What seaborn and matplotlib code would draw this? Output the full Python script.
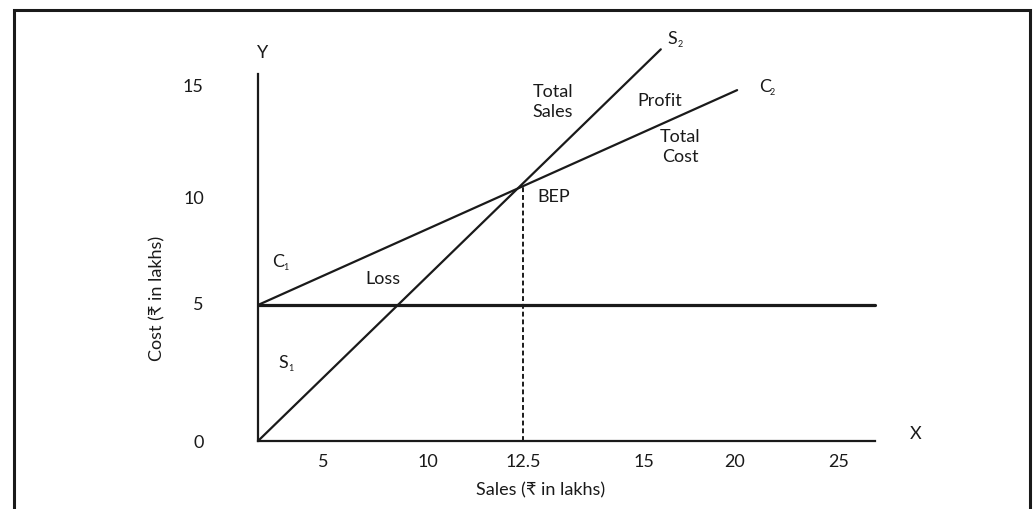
import matplotlib
matplotlib.use("Agg")
import matplotlib.pyplot as plt
import matplotlib.patches as patches
from matplotlib.transforms import offset_copy
import seaborn as sns
import pandas as pd

# Break-even chart values (chart units: sales and cost in lakhs, as drawn)
sales_x = [0, 19.0]
sales_y = [0, 14.4]
cost_x = [0, 22.6]
cost_y = [5, 12.9]
fixed_x = [0, 29.1]
fixed_y = [5, 5]
bep_x = 12.5
bep_top = 9.4

x_tick_labels = ["5", "10", "12.5", "15", "20", "25"]
y_tick_labels = ["0", "5", "10", "15"]

# where the (hand-placed) tick labels sit along the axes
x_tick_pos = [3.1, 8.0, 12.5, 18.2, 22.5, 27.4]
y_tick_pos = [0, 5.1, 9.0, 13.1]

# --- style ---
sns.set_theme(style="white")
plt.rcParams["font.family"] = ["Lato", "DejaVu Sans"]
INK = "#1a1a1a"
fs = 13

fig = plt.figure(figsize=(10.35, 5.10), dpi=100)
# axes origin sits at pixel (258, 442); 21.2 px per x unit, 27.2 px per y unit
ax = fig.add_axes([258 / 1035, 68 / 510, 742 / 1035, 422 / 510])
ax.set_xlim(0, 742 / 21.2)
ax.set_ylim(0, 422 / 27.2)

lines = pd.DataFrame({
    "x": sales_x + cost_x + fixed_x,
    "y": sales_y + cost_y + fixed_y,
    "line": ["sales"] * 2 + ["cost"] * 2 + ["fixed"] * 2,
})
sns.lineplot(data=lines[lines.line == "sales"], x="x", y="y", color=INK, lw=1.6, ax=ax)
sns.lineplot(data=lines[lines.line == "cost"], x="x", y="y", color=INK, lw=1.6, ax=ax)
sns.lineplot(data=lines[lines.line == "fixed"], x="x", y="y", color=INK, lw=2.3, ax=ax)
ax.plot([bep_x, bep_x], [0, bep_top], color=INK, lw=1.4, ls=(0, (2.5, 1.5)))

# axes lines
for s in ["top", "right"]:
    ax.spines[s].set_visible(False)
ax.spines["left"].set_bounds(0, 13.5)
ax.spines["bottom"].set_bounds(0, 29.1)
for s in ["left", "bottom"]:
    ax.spines[s].set_color(INK)
    ax.spines[s].set_linewidth(1.6)

ax.set_xticks(x_tick_pos, x_tick_labels)
ax.set_yticks(y_tick_pos, y_tick_labels)
ax.tick_params(axis="both", length=0, labelsize=fs, colors=INK)
ax.tick_params(axis="x", pad=9)
ax.tick_params(axis="y", pad=39)
ax.set_xlabel("")
ax.set_ylabel("")
ax.grid(False)


def label(x, y, txt, sub=None, **kw):
    # letter with a tiny subscript like the textbook figure
    t = ax.text(x, y, txt, fontsize=fs, color=INK, ha="center", va="center", **kw)
    if sub:
        tr = offset_copy(ax.transData, fig=fig, x=3.6, y=-4, units="points")
        ax.text(x, y, sub, fontsize=6.5, color=INK, ha="left", va="center", transform=tr)
    return t


label(0.2, 14.3, "Y")
label(31.0, 0.3, "X")
label(19.55, 14.8, "S", "2")
label(23.9, 13.05, "C", "2")
label(13.9, 12.5, "Total\nSales", linespacing=1.25)
label(18.95, 12.55, "Profit")
label(19.9, 10.85, "Total\nCost", linespacing=1.25)
label(13.95, 9.0, "BEP")
label(0.95, 6.62, "C", "1")
label(5.9, 6.0, "Loss")
label(1.2, 2.9, "S", "1")

fig.text(541 / 1035, 1 - 490 / 510, "Sales (₹ in lakhs)", fontsize=fs, color=INK,
         ha="center", va="center")
fig.text(157 / 1035, 1 - 298 / 510, "Cost (₹ in lakhs)", fontsize=fs, color=INK,
         ha="center", va="center", rotation=90)

# outer frame (open at the bottom)
frame = patches.Rectangle((14 / 1035, -0.05), 1016 / 1035, 1.05 - 11 / 510,
                          transform=fig.transFigure, fill=False, lw=2.2, ec=INK)
fig.add_artist(frame)

fig.savefig("out.png", dpi=100)
